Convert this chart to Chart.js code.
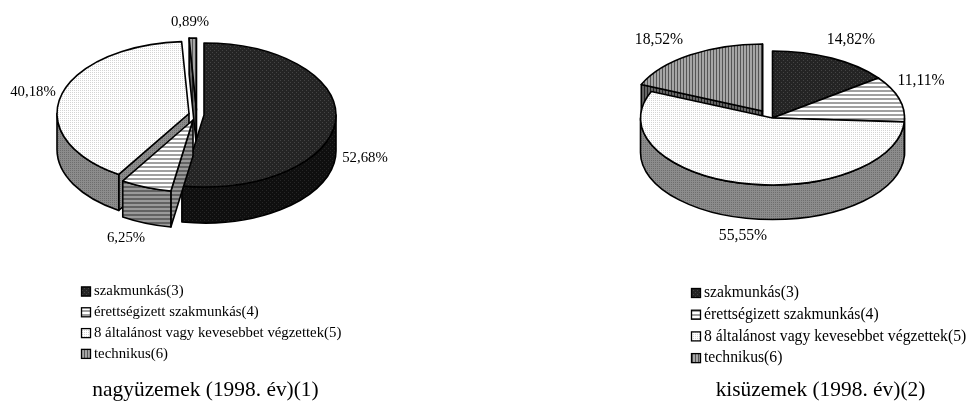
<!DOCTYPE html>
<html>
<head>
<meta charset="utf-8">
<title>Iskolai végzettség</title>
<script src="https://cdn.jsdelivr.net/npm/chart.js@4"></script>
<style>
    html, body { margin: 0; padding: 0; background: #fff; }
    canvas { position: absolute; top: 0; }
</style>
</head>
<body>
<canvas id="nagyuzemChart" style="left:0"></canvas>
<canvas id="kisuzemChart" style="left:575px"></canvas>
<script>
const categories = ['szakmunkás(3)', 'érettségizett szakmunkás(4)', '8 általánost vagy kevesebbet végzettek(5)', 'technikus(6)'];
const nagyuzemValues = [52.68, 6.25, 40.18, 0.89];
const kisuzemValues = [14.82, 11.11, 55.55, 18.52];
const nagyuzemTitle = 'nagyüzemek (1998. év)(1)';
const kisuzemTitle = 'kisüzemek (1998. év)(2)';

const FONT_FAMILY = '"Liberation Serif", "Times New Roman", serif';

// Small repeating tiles, same look as the old office hatch fills
function makePattern(base, ink, kind) {
    const size = kind === 'fine' ? 2 : kind === 'vlines' ? 3 : 4;
    const tile = document.createElement('canvas');
    tile.width = size;
    tile.height = size;
    const c = tile.getContext('2d');
    c.fillStyle = base;
    c.fillRect(0, 0, size, size);
    c.fillStyle = ink;
    if (kind === 'dots') {
        c.fillRect(0, 0, 1, 1);
        c.fillRect(2, 2, 1, 1);
    } else if (kind === 'fine') {
        c.fillRect(0, 0, 1, 1);
    } else if (kind === 'hlines') {
        c.fillRect(0, 2, size, 2);
    } else if (kind === 'vlines') {
        c.fillRect(0, 0, 1, size);
    }
    return c.createPattern(tile, 'repeat');
}

const topFills = [
    makePattern('#242424', '#444444', 'dots'),
    makePattern('#ffffff', '#a0a0a0', 'hlines'),
    makePattern('#ffffff', '#d4d4d4', 'fine'),
    makePattern('#a6a6a6', '#555555', 'vlines')
];
const sideFills = [
    makePattern('#0f0f0f', '#262626', 'dots'),
    makePattern('#9a9a9a', '#626262', 'hlines'),
    makePattern('#8c8c8c', '#6e6e6e', 'fine'),
    makePattern('#666666', '#222222', 'vlines')
];

// Draws the slices as a tilted, extruded disc, using the angles the arc elements got from Chart.js
const tiltedPie = {
    id: 'tiltedPie',
    beforeDatasetsDraw(chart, args, opts) {
        const ctx = chart.ctx;
        const arcs = chart.getDatasetMeta(0).data;

        opts.order.forEach(i => {
            drawSlice(ctx, arcs[i], i, opts);
        });

        ctx.fillStyle = '#000';
        ctx.textBaseline = 'middle';
        ctx.textAlign = 'center';
        ctx.font = opts.legendFont + 'px ' + FONT_FAMILY;
        chart.data.datasets[0].data.forEach((value, i) => {
            const text = value.toFixed(2).replace('.', ',') + '%';
            ctx.fillText(text, opts.labels[i][0], opts.labels[i][1]);
        });

        drawLegend(ctx, chart, opts);

        ctx.font = '21.4px ' + FONT_FAMILY;
        ctx.textAlign = 'center';
        ctx.fillStyle = '#000';
        ctx.fillText(opts.title, opts.titleX, 390);
        return false;
    }
};

function drawSlice(ctx, arc, i, opts) {
    const rx = arc.outerRadius;
    const ry = rx * opts.tilt;
    const cx = arc.x + opts.shift[i][0];
    const cy = opts.centerY + opts.shift[i][1];
    const depth = opts.depth;
    const a = arc.startAngle;
    const b = arc.endAngle;

    ctx.save();
    ctx.lineWidth = 1.6;
    ctx.lineJoin = 'round';
    ctx.strokeStyle = '#000';
    ctx.fillStyle = sideFills[i];

    // cut faces that turn towards the viewer
    [[a, Math.cos(a) < 0], [b, Math.cos(b) > 0]].forEach(([angle, visible]) => {
        if (!visible) return;
        const ex = cx + rx * Math.cos(angle);
        const ey = cy + ry * Math.sin(angle);
        ctx.beginPath();
        ctx.moveTo(cx, cy);
        ctx.lineTo(ex, ey);
        ctx.lineTo(ex, ey + depth);
        ctx.lineTo(cx, cy + depth);
        ctx.closePath();
        ctx.fill();
        ctx.stroke();
    });

    // outer rim, only the near half of the ellipse shows
    const from = Math.max(a, 0);
    const to = Math.min(b, Math.PI);
    if (to > from) {
        ctx.beginPath();
        ctx.ellipse(cx, cy, rx, ry, 0, from, to);
        ctx.ellipse(cx, cy + depth, rx, ry, 0, to, from, true);
        ctx.closePath();
        ctx.fill();
        ctx.stroke();
    }

    ctx.fillStyle = topFills[i];
    ctx.beginPath();
    ctx.moveTo(cx, cy);
    ctx.ellipse(cx, cy, rx, ry, 0, a, b);
    ctx.closePath();
    ctx.fill();
    ctx.stroke();
    ctx.restore();
}

function drawLegend(ctx, chart, opts) {
    ctx.font = opts.legendFont + 'px ' + FONT_FAMILY;
    ctx.textAlign = 'left';
    chart.data.labels.forEach((label, i) => {
        const y = opts.legendY + i * opts.legendGap;
        ctx.fillStyle = topFills[i];
        ctx.fillRect(opts.legendX, y - 5, 10, 10);
        ctx.strokeStyle = '#000';
        ctx.lineWidth = 1.3;
        ctx.strokeRect(opts.legendX + 0.5, y - 4.5, 9, 9);
        ctx.fillStyle = '#000';
        ctx.fillText(label, opts.legendX + 13, y);
    });
}

function createPie(canvasId, width, values, pieOptions) {
    const canvas = document.getElementById(canvasId);
    canvas.width = width;
    canvas.height = 401;
    return new Chart(canvas, {
        type: 'pie',
        data: {
            labels: categories,
            datasets: [{
                data: values,
                backgroundColor: topFills,
                borderWidth: 0,
                hoverOffset: 0
            }]
        },
        options: {
            responsive: false,
            animation: false,
            events: [],
            layout: { padding: { bottom: 137 } },
            plugins: {
                legend: { display: false },
                tooltip: { enabled: false },
                tiltedPie: pieOptions
            }
        },
        plugins: [tiltedPie]
    });
}

createPie('nagyuzemChart', 408, nagyuzemValues, {
    tilt: 72 / 132,
    centerY: 115,
    depth: 36,
    order: [3, 0, 2, 1],
    shift: [[0, 0], [-11, 5], [-15, -1.5], [-7.5, -5]],
    labels: [[365, 158], [126, 238], [33, 92], [190, 22]],
    legendX: 81,
    legendY: 291.5,
    legendGap: 20.8,
    legendFont: 14.8,
    title: nagyuzemTitle,
    titleX: 205.5
});

createPie('kisuzemChart', 395, kisuzemValues, {
    tilt: 67 / 132,
    centerY: 118,
    depth: 34.5,
    order: [3, 0, 1, 2],
    shift: [[0, 0], [0, 0], [0, 0], [-10, -7]],
    labels: [[276, 40], [346, 81], [168, 236], [84, 40]],
    legendX: 116,
    legendY: 293,
    legendGap: 21.7,
    legendFont: 15.7,
    title: kisuzemTitle,
    titleX: 245.5
});
</script>
</body>
</html>
